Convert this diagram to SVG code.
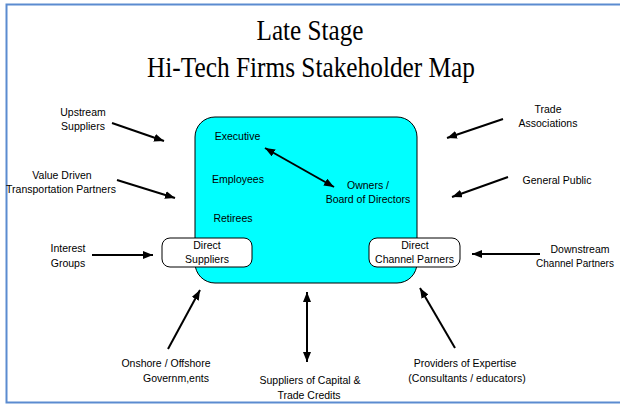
<svg xmlns="http://www.w3.org/2000/svg" width="620" height="405" viewBox="0 0 620 405">
<defs>
<style>
.t{font-family:"Liberation Sans",Arial,sans-serif;font-size:10.5px;fill:#000;text-anchor:middle}
.ttl{font-family:"Liberation Serif","Times New Roman",serif;font-size:30px;fill:#000;text-anchor:middle}
.c{stroke:#000;stroke-width:2;fill:none}
.sb{fill:#fff;stroke:#000;stroke-width:1}
</style>
<marker id="ah" viewBox="0 0 10 8" refX="10" refY="4" markerWidth="10" markerHeight="8" markerUnits="userSpaceOnUse" orient="auto-start-reverse">
<path d="M0,0 L10,4 L0,8 Z" fill="#000"/>
</marker>
</defs>
<rect width="620" height="405" fill="#fff"/>
<path d="M625,4.5 H6.5 V402.5 H625" fill="none" stroke="#5B8BD0" stroke-width="2"/>
<g id="title">
<text class="ttl" x="310" y="40" textLength="107" lengthAdjust="spacingAndGlyphs">Late Stage</text>
<text class="ttl" x="311" y="77" textLength="328" lengthAdjust="spacingAndGlyphs">Hi-Tech Firms Stakeholder Map</text>
</g>
<g id="firm">
<rect x="195" y="117" width="222" height="166" rx="20" ry="20" fill="#00FFFF" stroke="#000" stroke-width="1"/>
<text class="t" x="237.5" y="140">Executive</text>
<text class="t" x="238" y="183">Employees</text>
<text class="t" x="233" y="222">Retirees</text>
<text class="t" x="368" y="189">Owners /</text>
<text class="t" x="368" y="203">Board of Directors</text>
</g>
<g id="direct-suppliers">
<rect class="sb" x="162" y="238" width="90" height="29" rx="8" ry="8"/>
<text class="t" x="207" y="249">Direct</text>
<text class="t" x="207" y="263">Suppliers</text>
</g>
<g id="direct-channel">
<rect class="sb" x="369" y="238" width="91" height="29" rx="8" ry="8"/>
<text class="t" x="415" y="249">Direct</text>
<text class="t" x="414.5" y="263">Channel Parners</text>
</g>
<g id="upstream">
<text class="t" x="83" y="116">Upstream</text>
<text class="t" x="83" y="130">Suppliers</text>
</g>
<g id="value-driven">
<text class="t" x="62" y="179">Value Driven</text>
<text class="t" x="61" y="193">Transportation Partners</text>
</g>
<g id="interest">
<text class="t" x="68" y="252">Interest</text>
<text class="t" x="68" y="267">Groups</text>
</g>
<g id="trade">
<text class="t" x="548" y="113">Trade</text>
<text class="t" x="548" y="127">Associations</text>
</g>
<g id="public">
<text class="t" x="557" y="184">General Public</text>
</g>
<g id="downstream">
<text class="t" x="580" y="253">Downstream</text>
<text class="t" x="575" y="267" style="font-size:10px">Channel Partners</text>
</g>
<g id="government">
<text class="t" x="166" y="367">Onshore / Offshore</text>
<text class="t" x="176" y="382">Governm,ents</text>
</g>
<g id="capital">
<text class="t" x="310" y="384">Suppliers of Capital &amp;</text>
<text class="t" x="309" y="399">Trade Credits</text>
</g>
<g id="expertise">
<text class="t" x="465" y="367">Providers of Expertise</text>
<text class="t" x="467" y="382">(Consultants / educators)</text>
</g>
<g id="connectors" class="c">
<line x1="112" y1="123" x2="164" y2="141" marker-end="url(#ah)"/>
<line x1="117" y1="180" x2="175" y2="198" marker-end="url(#ah)"/>
<line x1="92" y1="255" x2="153" y2="255" marker-end="url(#ah)"/>
<line x1="503" y1="119" x2="447" y2="138" marker-end="url(#ah)"/>
<line x1="508" y1="177" x2="452" y2="197" marker-end="url(#ah)"/>
<line x1="540" y1="254" x2="472" y2="254" marker-end="url(#ah)"/>
<line x1="265" y1="148" x2="334" y2="187" marker-start="url(#ah)" marker-end="url(#ah)"/>
<line x1="168" y1="349" x2="200" y2="290" marker-end="url(#ah)"/>
<line x1="307" y1="292" x2="307" y2="362" marker-start="url(#ah)" marker-end="url(#ah)"/>
<line x1="455" y1="348" x2="420" y2="288" marker-end="url(#ah)"/>
</g>
</svg>
